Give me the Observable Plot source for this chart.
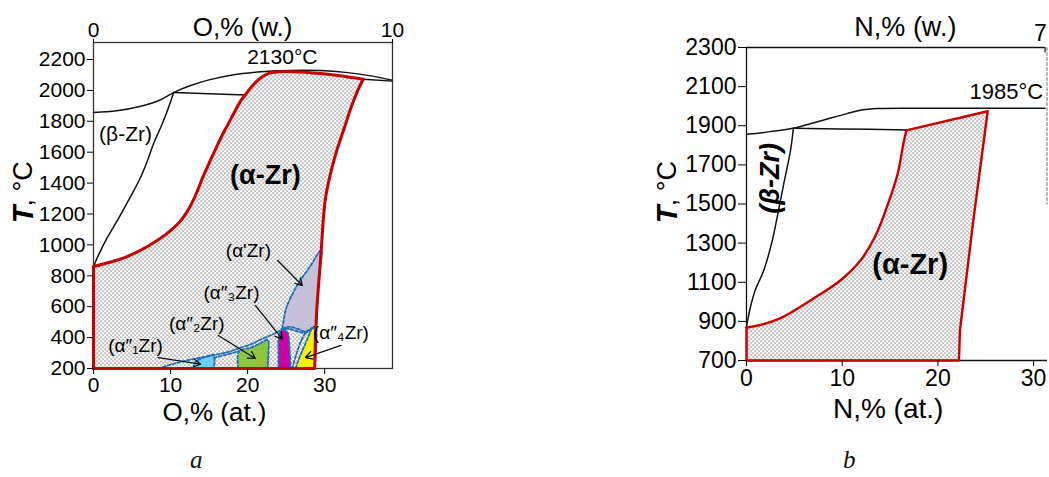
<!DOCTYPE html>
<html><head><meta charset="utf-8">
<script src="https://cdn.jsdelivr.net/npm/d3@7"></script>
<script src="https://cdn.jsdelivr.net/npm/@observablehq/plot@0.6"></script>
<style>
body{margin:0;background:#fff;width:1049px;height:477px;position:relative;overflow:hidden;font-family:"Liberation Sans",Arial,sans-serif;}
#pa,#pb{position:absolute;top:0}
#pa{left:0} #pb{left:640px}
.cap{position:absolute;font-family:"Liberation Serif","DejaVu Serif",serif;font-style:italic;font-size:25px;color:#111}
</style></head><body>
<div id="pa"></div><div id="pb"></div>
<div class="cap" style="left:190px;top:446px">a</div>
<div class="cap" style="left:843px;top:446px">b</div>
<script>
// ================= Panel a : Zr–O (O, at.% ; T, °C) =================
const yTicksA = [200,400,600,800,1000,1200,1400,1600,1800,2000,2200];
const xTicksA = [0,10,20,30];
const topTicksA = [0,38.8];          // 0 and 10 wt.% O
const topLabelsA = ["0","10"];
const liquidusA = [[0,1857],[3,1868],[6,1896],[8.5,1935],[10.4,1986],[12.5,2030],[15,2068],[18,2100],[21,2118],[24,2127],[27,2130],[30,2127],[33,2115],[36,2094],[38.8,2066]];
const solidusRA = [[35,2072],[38.8,2060]];
const betaLineA = [[0,862],[0.8,950],[1.8,1048],[3.0,1150],[3.9,1230],[5.0,1330],[6.1,1436],[7.0,1545],[7.8,1656],[8.8,1770],[9.6,1870],[10.4,1986]];
const periLineA = [[10.4,1986],[15,1978],[19.7,1970]];
// (α-Zr) field boundary; vertices 1, 24, 35 are the sharp corners
const alphaZrA = [[0,200],[0,860],[2,886],[4.5,928],[7,990],[9.3,1065],[11.2,1150],[12.5,1245],[13.4,1340],[14.2,1440],[15.0,1530],[15.8,1615],[16.6,1700],[17.5,1785],[18.3,1860],[19.1,1932],[19.9,1985],[20.8,2040],[21.8,2085],[22.8,2112],[24,2120],[26,2121],[29.5,2109],[32,2095],[35,2072],[34.3,2000],[33.5,1900],[32.5,1750],[31.5,1600],[30.7,1450],[30.1,1300],[29.8,1150],[29.6,1000],[29.3,800],[29.0,600],[28.8,400],[28.7,200],[0,200]];
const cornersA = [1,24,35];
const alphaPrime = [[24.5,460],[24.7,520],[25.0,590],[25.7,670],[26.7,760],[28.1,860],[29.55,965],[29.3,800],[29.0,600],[28.8,470],[28.3,455],[27.5,430],[26.5,440],[25.5,455],[24.5,460]];
const alpha1 = [[13.0,200],[13.1,235],[13.8,262],[14.8,280],[15.6,288],[15.7,240],[15.6,200]];
const alpha2 = [[18.8,200],[18.7,250],[18.9,312],[20.4,335],[21.6,362],[22.6,385],[22.7,300],[22.6,200]];
const alpha3 = [[24.0,200],[24.0,300],[24.0,380],[24.2,430],[24.7,452],[25.2,430],[25.4,360],[25.5,280],[25.6,200]];
const alpha4 = [[26.2,200],[26.8,280],[27.4,350],[28.0,420],[28.35,462],[28.8,470],[28.7,200]];
const envelopeA = [[8.4,200],[10.5,232],[13,262],[15.6,286],[17.5,308],[19.1,335],[20.5,358],[21.7,388],[23,415],[23.9,437],[24.5,460]];
const innerDashA = [[15.6,268],[17.2,290],[18.9,312]];
const arcDashA = [[24.5,460],[25.5,470],[26.5,456],[27.5,440],[28.35,462]];
const splitDashA = [[25.8,200],[26.3,290],[27.0,385],[27.5,430]];
const arrowsA = [
  {x1:23.9,y1:899,x2:27.1,y2:737},
  {x1:21.0,y1:608,x2:24.5,y2:390},
  {x1:16.2,y1:414,x2:21.0,y2:265},
  {x1:8.4,y1:271,x2:13.9,y2:228},
  {x1:32.1,y1:349,x2:27.5,y2:271}
];
const phaseLabelsA = [
  {x:20.1,y:964,t:"(α'Zr)"},
  {x:17.9,y:692,t:"(α″₃Zr)"},
  {x:13.4,y:491,t:"(α″₂Zr)"},
  {x:5.45,y:349,t:"(α″₁Zr)"},
  {x:32.1,y:433,t:"(α″₄Zr)"}
];

// ================= Panel b : Zr–N (N, at.% ; T, °C) =================
const yTicksB = [700,900,1100,1300,1500,1700,1900,2100,2300];
const xTicksB = [0,10,20,30];
const topTickB = [31.2];             // 7 wt.% N
const topLabelB = ["7"];
const liquidusB = [[0,1856],[2.5,1870],[4.9,1887],[6.5,1908],[8,1928],[10.5,1962],[12,1980],[13.7,1988],[20,1989],[31.2,1989]];
const periLineB = [[4.9,1887],[10,1884],[16.7,1878]];
const betaLineB = [[4.9,1887],[4.6,1774],[3.9,1605],[3.2,1432],[2.7,1314],[1.8,1160],[0.9,1058],[0.4,971],[0.1,900],[0,870]];
// (α-Zr) field; vertices 1..11 form the curved α/(α+β) boundary
const alphaZrB = [[0,700],[0,869],[1.2,879],[3.5,915],[7,1017],[9.8,1109],[11.9,1211],[13.5,1340],[14.8,1503],[15.8,1656],[16.4,1810],[16.7,1876],[25.2,1974],[23.7,1416],[22.3,853],[22.2,700],[0,700]];
const curveB = [1,11];
const dashEdgeB = [[31.4,2300],[31.4,1500]];

const pts = a => a.map(([x,y]) => ({x,y}));
const FONT = "'Liberation Sans', Arial, sans-serif";
const BLUE = "#1f6db8";
const RED = "#c80000";

function addPattern(svg, id){
  const ns = "http://www.w3.org/2000/svg";
  const defs = document.createElementNS(ns, "defs");
  defs.innerHTML = `<pattern id="${id}" width="4" height="4" patternUnits="userSpaceOnUse"><rect width="4" height="4" fill="#fff"/><rect x="0" y="0" width="1.2" height="1.2" fill="#505050"/><rect x="2" y="2" width="1.2" height="1.2" fill="#505050"/></pattern>`;
  svg.insertBefore(defs, svg.firstChild);
}

const region = (data, fill, curve="linear") => Plot.line(pts(data), {x:"x", y:"y", fill, stroke:"none", curve});
const dashed = (data) => Plot.line(pts(data), {x:"x", y:"y", stroke:BLUE, strokeWidth:1.8, strokeDasharray:"3,2", curve:"catmull-rom"});
const blk = (data, curve="catmull-rom") => Plot.line(pts(data), {x:"x", y:"y", stroke:"#111", strokeWidth:1.5, curve});
const redSeg = (data, curve, w) => Plot.line(pts(data), {x:"x", y:"y", stroke:RED, strokeWidth:w, strokeLinejoin:"round", strokeLinecap:"round", curve});

const A = Plot.plot({
  width: 420, height: 440,
  marginLeft: 93, marginRight: 28, marginTop: 42, marginBottom: 72,
  x: {domain: [0, 38.8]}, y: {domain: [200, 2310]},
  style: {fontFamily: FONT, fontSize: "21px", color: "#000", background: "transparent", overflow: "visible"},
  marks: [
    region(alphaZrA, "url(#dotsA)"),
    region(alphaPrime, "#c7c0d9"),
    region(alpha1, "#69d0f7"),
    region(alpha2, "#8cc63f"),
    region(alpha3, "#d000a8", "catmull-rom"),
    region(alpha4, "#f4f400"),
    dashed(alphaPrime), dashed(alpha1), dashed(alpha2), dashed(alpha3), dashed(alpha4),
    dashed(envelopeA), dashed(innerDashA), dashed(arcDashA), dashed(splitDashA),
    blk(liquidusA), blk(solidusRA, "linear"), blk(betaLineA), blk(periLineA),
    Plot.frame({stroke:"#333", strokeWidth:1.3}),
    redSeg(alphaZrA.slice(0, cornersA[0] + 1), "linear", 3),
    redSeg(alphaZrA.slice(cornersA[0], cornersA[1] + 1), "catmull-rom", 3),
    redSeg(alphaZrA.slice(cornersA[1], cornersA[2] + 1), "catmull-rom", 3),
    redSeg(alphaZrA.slice(cornersA[2]), "linear", 3),
    Plot.axisY({ticks: yTicksA, tickSize: 6, tickPadding: 2, label: null, tickFormat: d => String(d)}),
    Plot.axisX({ticks: xTicksA, tickSize: 6, tickPadding: 3, label: null}),
    Plot.axisX({anchor: "top", ticks: topTicksA, tickFormat: d => topLabelsA[topTicksA.indexOf(d)], tickSize: 4, tickPadding: 2, label: null}),
    Plot.arrow(arrowsA, {x1:"x1", y1:"y1", x2:"x2", y2:"y2", stroke:"#111", strokeWidth:1.3, headLength:9}),
    Plot.text(phaseLabelsA, {x:"x", y:"y", text:"t", fontSize:19}),
    Plot.text([{x:19.35, y:2407}], {x:"x", y:"y", text:() => "O,% (w.)", fontSize:26}),
    Plot.text([{x:15.7, y:-85}], {x:"x", y:"y", text:() => "O,% (at.)", fontSize:26}),
    Plot.text([{x:-9.1, y:1197}], {x:"x", y:"y", text:() => "T", rotate:-90, fontSize:29, fontWeight:"bold", fontStyle:"italic"}),
    Plot.text([{x:-9.1, y:1248}], {x:"x", y:"y", text:() => ", °C", rotate:-90, textAnchor:"start", fontSize:27}),
    Plot.text([{x:24.5, y:2213}], {x:"x", y:"y", text:() => "2130°C", fontSize:21}),
    Plot.text([{x:4.16, y:1714}], {x:"x", y:"y", text:() => "(β-Zr)", fontSize:21}),
    Plot.text([{x:22.3, y:1449}], {x:"x", y:"y", text:() => "(α-Zr)", fontSize:27, fontWeight:"bold"})
  ]
});
addPattern(A, "dotsA");
document.getElementById("pa").appendChild(A);

const B = Plot.plot({
  width: 409, height: 440,
  marginLeft: 106, marginRight: 2, marginTop: 47, marginBottom: 80,
  x: {domain: [0, 31.45]}, y: {domain: [700, 2300]},
  style: {fontFamily: FONT, fontSize: "23px", color: "#000", background: "transparent", overflow: "visible"},
  marks: [
    region(alphaZrB, "url(#dotsB)"),
    blk(liquidusB), blk(periLineB), blk(betaLineB),
    Plot.line(pts(dashEdgeB), {x:"x", y:"y", stroke:"#888", strokeWidth:1.2, strokeDasharray:"3,2"}),
    Plot.ruleX([0], {y1:700, y2:2300, stroke:"#111", strokeWidth:1.3}),
    Plot.ruleY([2300], {x1:0, x2:31.2, stroke:"#111", strokeWidth:1.3}),
    Plot.ruleY([700], {x1:0, x2:31.45, stroke:"#111", strokeWidth:1.3}),
    redSeg(alphaZrB.slice(0, curveB[0] + 1), "linear", 2.4),
    redSeg(alphaZrB.slice(curveB[0], curveB[1] + 1), "catmull-rom", 2.4),
    redSeg(alphaZrB.slice(curveB[1]), "linear", 2.4),
    Plot.ruleX(topTickB, {y1:2300, y2:2272, stroke:"#111", strokeWidth:1.2}),
    Plot.text(topTickB, {x:d => d - 0.5, y:() => 2373, text:(d,i) => topLabelB[i], fontSize:23}),
    Plot.axisY({ticks: yTicksB, tickSize: 8, tickPadding: 2, label: null, tickFormat: d => String(d)}),
    Plot.axisX({ticks: xTicksB, tickSize: 6, tickPadding: 3, label: null}),
    Plot.text([{x:16.6, y:2403}], {x:"x", y:"y", text:() => "N,% (w.)", fontSize:27}),
    Plot.text([{x:14.8, y:454}], {x:"x", y:"y", text:() => "N,% (at.)", fontSize:28}),
    Plot.text([{x:-8.25, y:1447}], {x:"x", y:"y", text:() => "T", rotate:-90, fontSize:29, fontWeight:"bold", fontStyle:"italic"}),
    Plot.text([{x:-8.25, y:1488}], {x:"x", y:"y", text:() => ", °C", rotate:-90, textAnchor:"start", fontSize:27}),
    Plot.text([{x:31.0, y:2071}], {x:"x", y:"y", text:() => "1985°C", textAnchor:"end", fontSize:22}),
    Plot.text([{x:2.5, y:1631}], {x:"x", y:"y", text:() => "(β-Zr)", rotate:-90, fontSize:27, fontWeight:"bold", fontStyle:"italic"}),
    Plot.text([{x:17.1, y:1191}], {x:"x", y:"y", text:() => "(α-Zr)", fontSize:29, fontWeight:"bold"})
  ]
});
addPattern(B, "dotsB");
document.getElementById("pb").appendChild(B);
</script></body></html>
